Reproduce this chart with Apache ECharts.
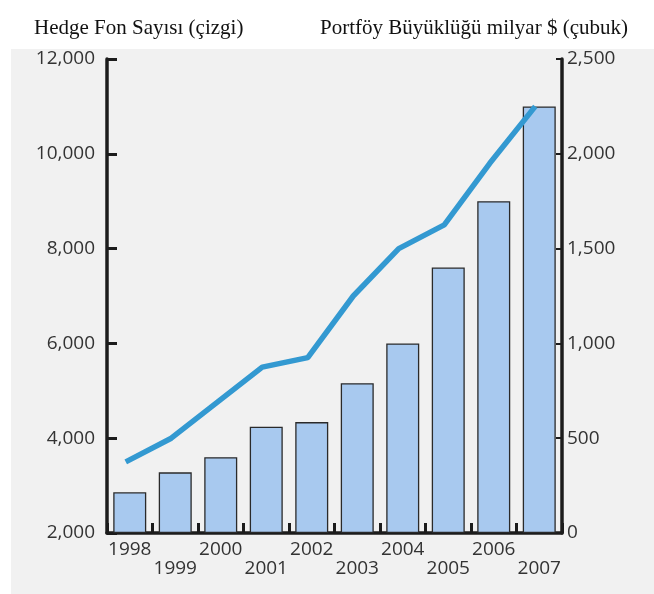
<!DOCTYPE html>
<html>
<head>
<meta charset="utf-8">
<title>Hedge Fon Sayısı ve Portföy Büyüklüğü</title>
<script src="https://cdn.jsdelivr.net/npm/echarts@6/dist/echarts.min.js"></script>
<style>
  html, body { margin: 0; padding: 0; background: #ffffff; }
  #chart { width: 654px; height: 594px; }
</style>
</head>
<body>
<div id="chart"></div>
<script>
// Years on the category axis
const years = ['1998', '1999', '2000', '2001', '2002', '2003', '2004', '2005', '2006', '2007'];
// Number of hedge funds (line, left axis)
const fundCount = [3500, 4000, 4750, 5500, 5700, 7000, 8000, 8500, 9800, 11000];
// Assets under management, billion $ (bars, right axis)
const portfolioSize = [215, 320, 400, 560, 585, 790, 1000, 1400, 1750, 2250];
// Axis ranges
const leftTicks = { min: 2000, max: 12000, interval: 2000 };
const rightTicks = { min: 0, max: 2500, interval: 500 };

const chart = echarts.init(document.getElementById('chart'), null, { renderer: 'canvas' });

const labelFont = 'Open Sans';
const labelColor = '#333333';
const axisColor = '#1c1c1c';
const titleStyle = { fontFamily: 'Liberation Serif', fontSize: 21, fontWeight: 'normal', color: '#111' };

chart.setOption({
  animation: false,
  backgroundColor: '#ffffff',
  graphic: [{
    type: 'rect',
    z: -10,
    silent: true,
    shape: { x: 11, y: 49, width: 643, height: 545 },
    style: { fill: '#f1f1f1' }
  }],
  title: [
    { text: 'Hedge Fon Sayısı (çizgi)', left: 29, top: 13, textStyle: titleStyle },
    { text: 'Portföy Büyüklüğü milyar $ (çubuk)', left: 315, top: 13, textStyle: titleStyle }
  ],
  grid: [
    // main plot: axes and bars
    { left: 107, right: 92, top: 59, bottom: 61, containLabel: false },
    // line layer, drawn a few pixels left of the bar centres
    { left: 103, right: 96, top: 59, bottom: 61, containLabel: false }
  ],
  xAxis: [
    {
      type: 'category',
      gridIndex: 0,
      data: years,
      boundaryGap: true,
      axisLine: { show: true, lineStyle: { color: axisColor, width: 3.5 } },
      axisTick: { show: true, inside: true, length: 10, lineStyle: { color: axisColor, width: 3 } },
      axisLabel: {
        margin: 7,
        fontFamily: labelFont,
        fontSize: 19,
        color: labelColor,
        lineHeight: 19,
        interval: 0,
        formatter: function (value, index) {
          return index % 2 === 1 ? '\n' + value : value;
        }
      },
      splitLine: { show: false }
    },
    {
      type: 'category',
      gridIndex: 1,
      data: years,
      boundaryGap: true,
      show: false
    }
  ],
  yAxis: [
    {
      type: 'value',
      gridIndex: 0,
      position: 'left',
      min: leftTicks.min, max: leftTicks.max, interval: leftTicks.interval,
      axisLine: { show: true, lineStyle: { color: axisColor, width: 3.5 } },
      axisTick: { show: true, inside: true, length: 10, lineStyle: { color: axisColor, width: 3 } },
      axisLabel: {
        margin: 12,
        fontFamily: labelFont,
        fontSize: 19,
        color: labelColor,
        formatter: function (v) { return v.toLocaleString('en-US'); }
      },
      splitLine: { show: false }
    },
    {
      type: 'value',
      gridIndex: 0,
      position: 'right',
      min: rightTicks.min, max: rightTicks.max, interval: rightTicks.interval,
      axisLine: { show: true, lineStyle: { color: axisColor, width: 3.5 } },
      axisTick: { show: true, inside: true, length: 6, lineStyle: { color: axisColor, width: 2 } },
      axisLabel: {
        margin: 5,
        fontFamily: labelFont,
        fontSize: 19,
        color: labelColor,
        formatter: function (v) { return v.toLocaleString('en-US'); }
      },
      splitLine: { show: false }
    },
    {
      type: 'value',
      gridIndex: 1,
      min: leftTicks.min, max: leftTicks.max, interval: leftTicks.interval,
      show: false
    }
  ],
  series: [
    {
      name: 'Portföy Büyüklüğü',
      type: 'bar',
      xAxisIndex: 0,
      yAxisIndex: 1,
      data: portfolioSize,
      barWidth: 33,
      itemStyle: { color: '#a8c9ef', borderColor: '#2a2a2a', borderWidth: 1.3 },
      z: 2
    },
    {
      name: 'Hedge Fon Sayısı',
      type: 'line',
      xAxisIndex: 1,
      yAxisIndex: 2,
      data: fundCount,
      showSymbol: false,
      symbol: 'none',
      lineStyle: { color: '#3399d1', width: 5.5 },
      z: 3
    }
  ]
});
</script>
</body>
</html>
